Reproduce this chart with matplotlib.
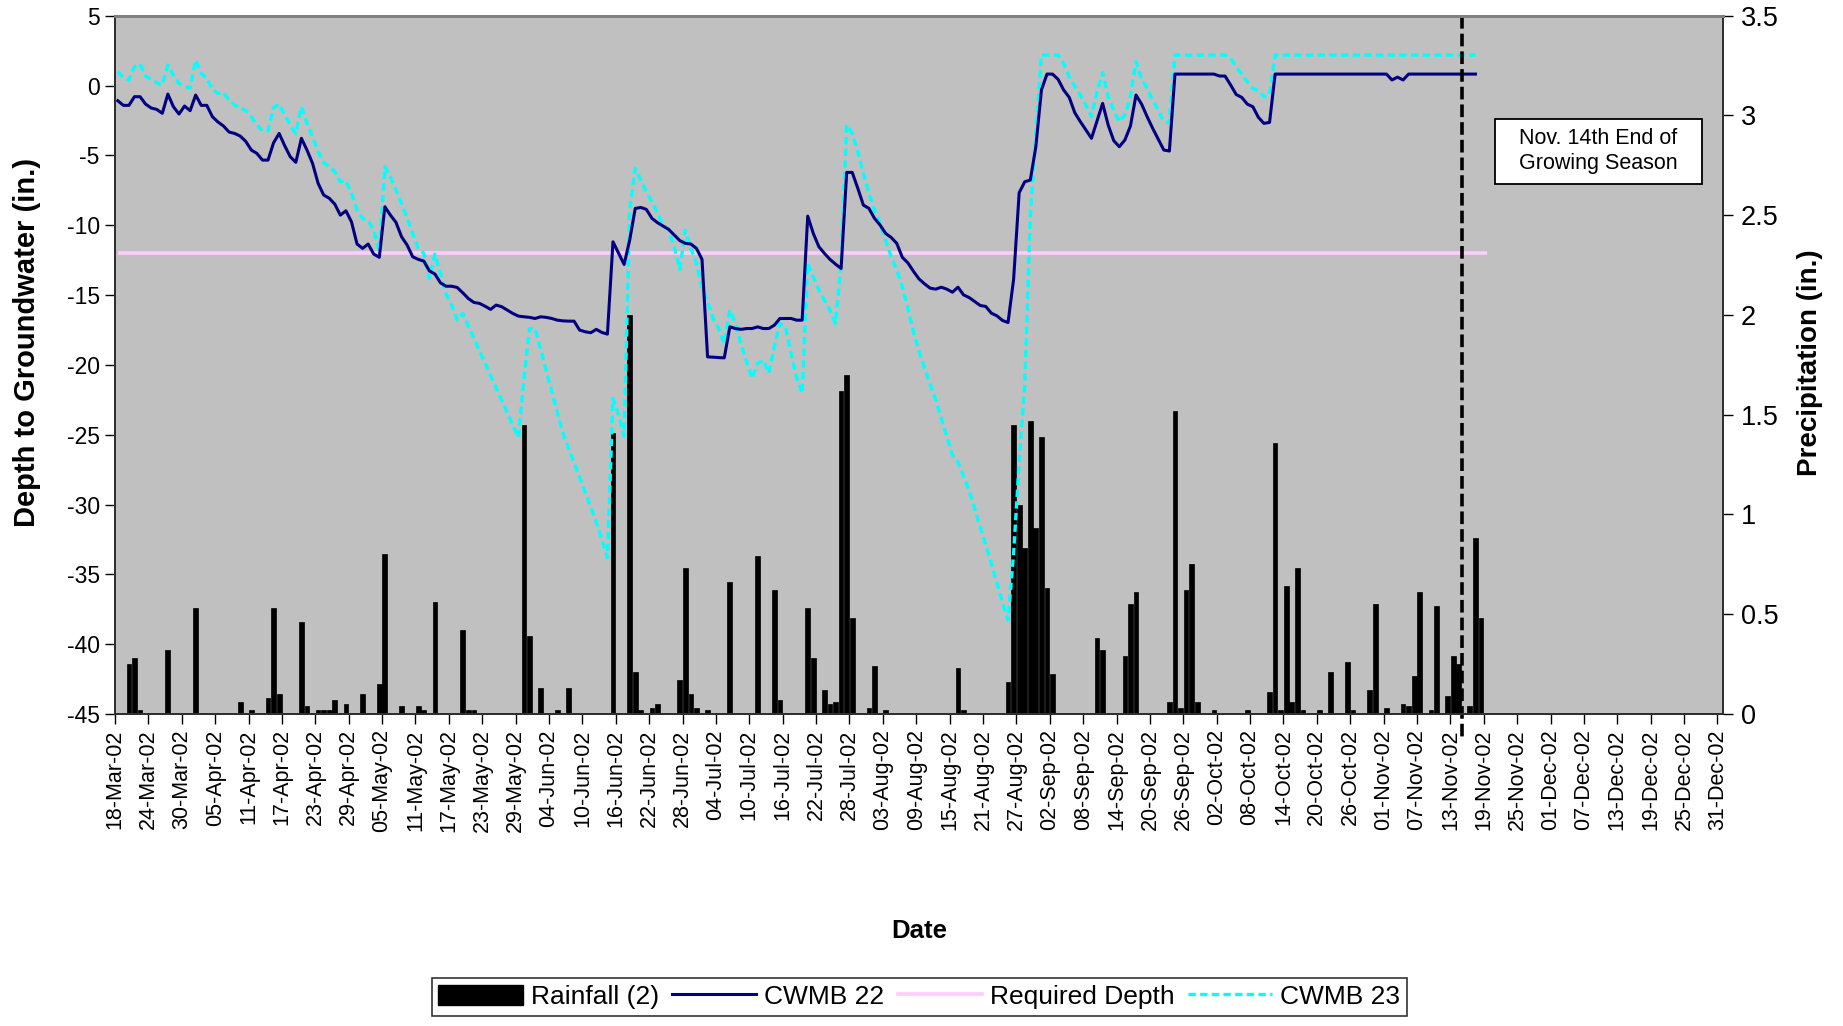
import datetime
import numpy as np
import matplotlib
matplotlib.use('Agg')
import matplotlib.pyplot as plt
import matplotlib.dates as mdates
from matplotlib.lines import Line2D
from matplotlib.patches import Patch, Rectangle

plt.rcParams['font.family'] = ['Liberation Sans', 'DejaVu Sans']
plt.rcParams['axes.unicode_minus'] = False

# days are counted from 18-Mar-02
START = datetime.date(2002, 3, 18)
END = datetime.date(2003, 1, 1)

# daily rainfall (in.)
rain_days = [2, 3, 4, 9, 14, 22, 24, 27, 28, 29, 33, 34, 36, 37, 38, 39, 41, 44, 47, 48,
             51, 54, 55, 57, 62, 63, 64, 73, 74, 76, 79, 81, 89, 92, 93, 94, 96, 97,
             101, 102, 103, 104, 106, 110, 115, 118, 119, 124, 125, 127, 128, 129, 130,
             131, 132, 135, 136, 138, 151, 152, 160, 161, 162, 163, 164, 165, 166, 167,
             168, 176, 177, 181, 182, 183, 189, 190, 191, 192, 193, 194, 197, 203, 207,
             208, 209, 210, 211, 212, 213, 216, 218, 221, 222, 225, 226, 228, 231, 232,
             233, 234, 236, 237, 239, 240, 241, 243, 244, 245]
rain_in = [0.25, 0.28, 0.02, 0.32, 0.53, 0.06, 0.02, 0.08, 0.53, 0.10, 0.46, 0.04, 0.02,
           0.02, 0.02, 0.07, 0.05, 0.10, 0.15, 0.80, 0.04, 0.04, 0.02, 0.56, 0.42, 0.02,
           0.02, 1.45, 0.39, 0.13, 0.02, 0.13, 1.41, 2.00, 0.21, 0.02, 0.03, 0.05, 0.17,
           0.73, 0.10, 0.03, 0.02, 0.66, 0.79, 0.62, 0.07, 0.53, 0.28, 0.12, 0.05, 0.06,
           1.62, 1.70, 0.48, 0.03, 0.24, 0.02, 0.23, 0.02, 0.16, 1.45, 1.05, 0.83, 1.47,
           0.93, 1.39, 0.63, 0.20, 0.38, 0.32, 0.29, 0.55, 0.61, 0.06, 1.52, 0.03, 0.62,
           0.75, 0.06, 0.02, 0.02, 0.11, 1.36, 0.02, 0.64, 0.06, 0.73, 0.02, 0.02, 0.21,
           0.26, 0.02, 0.12, 0.55, 0.03, 0.05, 0.04, 0.19, 0.61, 0.02, 0.54, 0.09, 0.29,
           0.25, 0.04, 0.88, 0.48]

# CWMB 22 depth to groundwater (in.)
cwmb22_days = list(range(0, 90)) + list(range(91, 176)) + list(range(177, 191)) + \
    [197, 198, 199, 200, 201, 202, 203, 204, 205, 206, 207, 208, 228, 229, 230, 231, 232, 244]
cwmb22 = [-1.09, -1.42, -1.42, -0.80, -0.80, -1.33, -1.61, -1.71, -1.99, -0.61,
          -1.52, -2.04, -1.47, -1.80, -0.68, -1.42, -1.42, -2.23, -2.61, -2.90,
          -3.33, -3.43, -3.62, -4.00, -4.62, -4.86, -5.34, -5.34, -4.10, -3.43,
          -4.31, -5.10, -5.50, -3.78, -4.62, -5.57, -7.00, -7.84, -8.07, -8.49,
          -9.28, -8.97, -9.76, -11.35, -11.66, -11.35, -12.07, -12.30, -8.68, -9.28,
          -9.80, -10.83, -11.42, -12.26, -12.45, -12.57, -13.27, -13.50, -14.13, -14.37,
          -14.37, -14.46, -14.84, -15.25, -15.53, -15.60, -15.80, -16.03, -15.72, -15.84,
          -16.08, -16.32, -16.51, -16.56, -16.60, -16.68, -16.56, -16.60, -16.68, -16.80,
          -16.85, -16.87, -16.87, -17.51, -17.63, -17.70, -17.46, -17.68, -17.80, -11.19,
          -12.81, -11.07, -8.80, -8.73, -8.87, -9.51, -9.82, -10.06, -10.30,
          -10.70, -11.10, -11.30, -11.35, -11.66, -12.45, -19.43, -19.45, -19.48, -19.50,
          -17.28, -17.40, -17.46, -17.40, -17.40, -17.28, -17.40, -17.40, -17.16, -16.68,
          -16.68, -16.68, -16.80, -16.80, -9.35, -10.59, -11.54, -12.02, -12.45, -12.79,
          -13.10, -6.22, -6.22, -7.36, -8.56, -8.80, -9.51, -9.99, -10.59, -10.88,
          -11.30, -12.30, -12.70, -13.30, -13.85, -14.20, -14.51, -14.58, -14.44, -14.58,
          -14.80, -14.44, -14.99, -15.18, -15.46, -15.75, -15.82, -16.30, -16.49, -16.82,
          -16.97, -13.88, -7.68, -6.89, -6.77, -4.38, -0.32, 0.82, 0.82, 0.44,
          -0.32, -0.85, -1.95, -2.59, -3.19, -3.78,
          -1.28, -2.83, -3.95, -4.38, -3.90, -2.90, -0.68, -1.33, -2.23, -3.07,
          -3.85, -4.62, -4.69, 0.82,
          0.82, 0.68, 0.68, 0.04, -0.64, -0.85, -1.33, -1.52, -2.28, -2.71, -2.64, 0.82,
          0.82, 0.40, 0.60, 0.40, 0.82, 0.82]

# CWMB 23 depth to groundwater (in.)
cwmb23_days = list(range(0, 58)) + [59, 60, 61, 62, 72, 73, 74, 75, 77, 80, 82, 84, 86, 88,
                                    89, 90, 91] + list(range(92, 146)) + \
    [147, 149, 150, 151, 153, 155, 157, 159, 160, 161, 162, 163, 164, 165, 166] + \
    list(range(169, 191)) + list(range(199, 209)) + [244]
cwmb23 = [0.99, 0.58, 0.39, 1.35, 1.54, 0.68, 0.44, 0.20, 0.04, 1.47,
          0.75, 0.15, -0.04, -0.20, 1.83, 0.87, 0.51, -0.28, -0.56, -0.52,
          -1.04, -1.40, -1.57, -1.80, -2.23, -2.83, -3.24, -3.24, -1.57, -1.33,
          -2.11, -2.83, -3.43, -1.52, -2.71, -3.66, -4.74, -5.53, -5.77, -6.17,
          -6.89, -6.82, -7.72, -8.92, -9.51, -9.68, -10.35, -11.90, -5.82, -6.53,
          -7.49, -8.44, -9.51, -10.59, -11.66, -12.02, -13.81, -12.07,
          -14.89, -15.72, -16.80, -16.32, -25.20, -21.00, -17.40, -17.40, -20.40, -24.90,
          -27.00, -29.10, -31.25, -33.80, -22.40, -23.60, -25.10,
          -9.00, -5.93, -6.77, -7.60, -8.30, -9.15, -9.98, -10.35, -11.54, -13.17,
          -10.35, -11.66, -12.74, -14.41, -15.49, -16.68, -17.40, -18.47, -16.08, -17.04,
          -18.47, -19.78, -20.98, -19.90, -19.66, -20.60, -18.70, -17.04, -17.28, -19.19,
          -20.86, -22.05, -12.74, -13.69, -14.65, -15.37, -16.08, -17.04, -12.74, -2.83,
          -3.43, -4.74, -6.29, -7.72, -8.92, -9.87, -11.07, -12.26, -13.21, -14.41,
          -15.96, -17.60, -19.00, -20.26,
          -22.50, -25.16, -26.47, -26.95, -28.98, -31.60, -34.22, -37.00, -38.28, -33.50,
          -27.00, -21.50, -9.40, -3.40, 2.18,
          2.18, 1.59, 0.64, -0.08, -0.68, -1.40, -2.23, -0.44, 0.92, -0.80,
          -1.76, -2.59, -2.11, -0.80, 1.70, 0.51, -0.20, -1.04, -1.76, -2.59,
          -2.66, 2.18,
          2.18, 1.95, 1.35, 0.82, 0.27, -0.20, -0.37, -0.80, -0.68, 2.18,
          2.18]

req_days = [0, 246]
req_depth = [-12, -12]

season_end = datetime.date(2002, 11, 14)

base = mdates.date2num(START)


def to_x(days):
    return base + np.asarray(days) + 0.5


fig = plt.figure(figsize=(18.43, 10.26), dpi=100)
ax = fig.add_axes([0.0624, 0.3041, 0.8725, 0.6806])
ax2 = ax.twinx()

# bars behind the lines: grey background on the twin axes
ax.set_zorder(ax2.get_zorder() + 1)
ax.patch.set_visible(False)
ax2.patch.set_visible(True)
ax2.patch.set_facecolor('#c0c0c0')

ax2.bar(to_x(rain_days), rain_in, width=0.85, color='black', edgecolor='black', linewidth=0.5)

ax.plot(to_x(req_days), req_depth, color='#ffccff', lw=2.6, solid_capstyle='butt')
ax.plot(to_x(cwmb23_days), cwmb23, color='#00ffff', lw=2.4, linestyle=(0, (2.2, 1.3)))
ax.plot(to_x(cwmb22_days), cwmb22, color='#000080', lw=2.2)

xs = mdates.date2num(season_end) + 1
ax.plot([xs, xs], [5, -46.8], color='black', lw=2.6, linestyle=(0, (3.5, 1.4)), clip_on=False)

ax.add_patch(Rectangle((0.8582, 0.759), 0.1287, 0.0931, transform=ax.transAxes,
                       facecolor='white', edgecolor='black', lw=1.3, zorder=5))
ax.text(0.9226, 0.8056, 'Nov. 14th End of\nGrowing Season', transform=ax.transAxes,
        ha='center', va='center', fontsize=15.5, linespacing=1.25, zorder=6)

ax.set_xlim(mdates.date2num(START), mdates.date2num(END))
ax.set_ylim(-45, 5)
ax2.set_ylim(0, 3.5)
ax.set_yticks(np.arange(-45, 6, 5))
ax2.set_yticks(np.arange(0, 3.6, 0.5))
ax2.yaxis.set_major_formatter(plt.FuncFormatter(lambda v, p: '%g' % v))

ticks = [mdates.date2num(START) + 6 * k for k in range(49)]
ax.set_xticks(ticks)
ax.xaxis.set_major_formatter(mdates.DateFormatter('%d-%b-%y'))
ax.tick_params(axis='x', rotation=90, labelsize=15.5, length=7, width=1, pad=4)
ax.tick_params(axis='y', labelsize=16.5, length=7, width=1, pad=4)
ax2.tick_params(axis='y', labelsize=19.5, length=7, width=1, pad=6)

for a in (ax, ax2):
    for s in ('left', 'right', 'bottom'):
        a.spines[s].set_color('#303030')
        a.spines[s].set_linewidth(1.4)
    a.spines['top'].set_color('#808080')
    a.spines['top'].set_linewidth(2)

fig.text(27 / 1843, 1 - 342 / 1026, 'Depth to Groundwater (in.)', rotation=90,
         ha='center', va='center', fontsize=21, fontweight='bold')
fig.text(1810 / 1843, 1 - 363 / 1026, 'Precipitation (in.)', rotation=90,
         ha='center', va='center', fontsize=20, fontweight='bold')
fig.text(919 / 1843, 1 - 931 / 1026, 'Date', ha='center', va='center',
         fontsize=18.5, fontweight='bold')

handles = [Patch(facecolor='black', edgecolor='black'),
           Line2D([], [], color='#000080', lw=2.2),
           Line2D([], [], color='#ffccff', lw=2.6),
           Line2D([], [], color='#00ffff', lw=2.4, linestyle=(0, (2.2, 1.3)))]
labels = ['Rainfall (2)', 'CWMB 22', 'Required Depth', 'CWMB 23']
leg = fig.legend(handles, labels, loc='center', bbox_to_anchor=(0.4987, 0.0283), ncol=4,
                 fontsize=19, frameon=True, fancybox=False, edgecolor='black',
                 handlelength=3.2, handleheight=0.8, columnspacing=0.5,
                 handletextpad=0.3, borderpad=0.25, borderaxespad=0)
leg.get_frame().set_linewidth(1.2)

fig.savefig('out.png', dpi=100)
